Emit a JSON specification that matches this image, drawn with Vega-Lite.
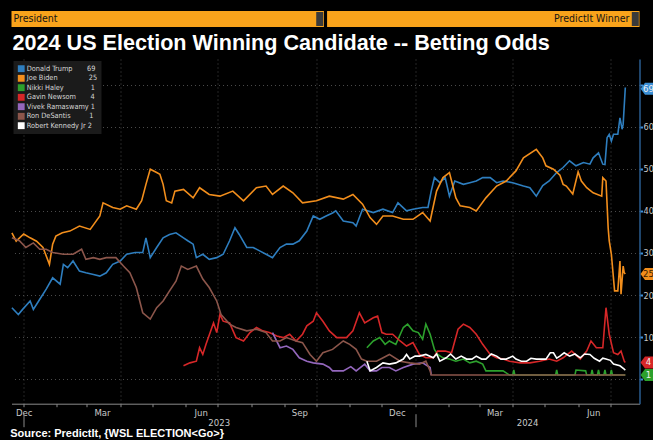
{
  "$schema": "https://vega.github.io/schema/vega-lite/v6.json",
  "background": "#000000",
  "padding": {"left": 8.5, "top": 11, "right": 0, "bottom": 0},
  "spacing": 4,
  "resolve": {"scale": {"color": "independent"}, "legend": {"color": "independent"}},
  "config": {
    "view": {"stroke": null},
    "axis": {"labelFont": "DejaVu Sans Condensed, sans-serif", "labelColor": "#c8c8c8", "labelFontSize": 9.5},
    "text": {"font": "DejaVu Sans Condensed, sans-serif"}
  },
  "title": {
    "text": "Source: PredictIt, {WSL ELECTION<Go>}",
    "orient": "bottom", "anchor": "start", "offset": 1, "dx": 1.5,
    "font": "Liberation Sans, Arial, sans-serif", "fontSize": 11, "fontWeight": "bold", "color": "#ffffff"
  },
  "datasets": {
    "menus": [{"menu": "President"}, {"menu": "PredictIt Winner"}],
    "last": [
      {"candidate": "Donald Trump", "last": 69},
      {"candidate": "Joe Biden", "last": 25},
      {"candidate": "Gavin Newsom", "last": 4},
      {"candidate": "Nikki Haley", "last": 1}
    ],
    "odds": [
      {"candidate": "Donald Trump", "date": "2022-12-21", "odds": 17.0},
      {"candidate": "Donald Trump", "date": "2022-12-27", "odds": 15.4},
      {"candidate": "Donald Trump", "date": "2022-12-31", "odds": 16.6},
      {"candidate": "Donald Trump", "date": "2023-01-07", "odds": 18.6},
      {"candidate": "Donald Trump", "date": "2023-01-10", "odds": 16.6},
      {"candidate": "Donald Trump", "date": "2023-01-16", "odds": 19.0},
      {"candidate": "Donald Trump", "date": "2023-01-22", "odds": 21.4},
      {"candidate": "Donald Trump", "date": "2023-01-28", "odds": 24.1},
      {"candidate": "Donald Trump", "date": "2023-02-04", "odds": 22.6},
      {"candidate": "Donald Trump", "date": "2023-02-07", "odds": 27.3},
      {"candidate": "Donald Trump", "date": "2023-02-11", "odds": 26.5},
      {"candidate": "Donald Trump", "date": "2023-02-16", "odds": 28.1},
      {"candidate": "Donald Trump", "date": "2023-02-22", "odds": 25.7},
      {"candidate": "Donald Trump", "date": "2023-02-28", "odds": 25.3},
      {"candidate": "Donald Trump", "date": "2023-03-07", "odds": 24.9},
      {"candidate": "Donald Trump", "date": "2023-03-13", "odds": 24.5},
      {"candidate": "Donald Trump", "date": "2023-03-19", "odds": 25.3},
      {"candidate": "Donald Trump", "date": "2023-03-25", "odds": 27.3},
      {"candidate": "Donald Trump", "date": "2023-04-01", "odds": 28.1},
      {"candidate": "Donald Trump", "date": "2023-04-07", "odds": 29.7},
      {"candidate": "Donald Trump", "date": "2023-04-15", "odds": 30.1},
      {"candidate": "Donald Trump", "date": "2023-04-22", "odds": 30.1},
      {"candidate": "Donald Trump", "date": "2023-04-25", "odds": 33.6},
      {"candidate": "Donald Trump", "date": "2023-04-29", "odds": 28.9},
      {"candidate": "Donald Trump", "date": "2023-05-05", "odds": 31.3},
      {"candidate": "Donald Trump", "date": "2023-05-11", "odds": 33.6},
      {"candidate": "Donald Trump", "date": "2023-05-17", "odds": 34.4},
      {"candidate": "Donald Trump", "date": "2023-05-23", "odds": 34.8},
      {"candidate": "Donald Trump", "date": "2023-05-30", "odds": 33.6},
      {"candidate": "Donald Trump", "date": "2023-06-03", "odds": 32.9},
      {"candidate": "Donald Trump", "date": "2023-06-08", "odds": 32.1},
      {"candidate": "Donald Trump", "date": "2023-06-11", "odds": 28.9},
      {"candidate": "Donald Trump", "date": "2023-06-17", "odds": 29.7},
      {"candidate": "Donald Trump", "date": "2023-06-23", "odds": 28.5},
      {"candidate": "Donald Trump", "date": "2023-06-30", "odds": 28.9},
      {"candidate": "Donald Trump", "date": "2023-07-06", "odds": 29.7},
      {"candidate": "Donald Trump", "date": "2023-07-12", "odds": 32.9},
      {"candidate": "Donald Trump", "date": "2023-07-17", "odds": 36.0},
      {"candidate": "Donald Trump", "date": "2023-07-21", "odds": 34.4},
      {"candidate": "Donald Trump", "date": "2023-07-28", "odds": 31.3},
      {"candidate": "Donald Trump", "date": "2023-08-03", "odds": 31.3},
      {"candidate": "Donald Trump", "date": "2023-08-09", "odds": 30.5},
      {"candidate": "Donald Trump", "date": "2023-08-15", "odds": 29.7},
      {"candidate": "Donald Trump", "date": "2023-08-21", "odds": 28.9},
      {"candidate": "Donald Trump", "date": "2023-08-28", "odds": 31.3},
      {"candidate": "Donald Trump", "date": "2023-09-03", "odds": 32.1},
      {"candidate": "Donald Trump", "date": "2023-09-09", "odds": 32.1},
      {"candidate": "Donald Trump", "date": "2023-09-15", "odds": 32.9},
      {"candidate": "Donald Trump", "date": "2023-09-22", "odds": 35.2},
      {"candidate": "Donald Trump", "date": "2023-09-28", "odds": 38.8},
      {"candidate": "Donald Trump", "date": "2023-10-04", "odds": 38.0},
      {"candidate": "Donald Trump", "date": "2023-10-10", "odds": 38.8},
      {"candidate": "Donald Trump", "date": "2023-10-16", "odds": 39.5},
      {"candidate": "Donald Trump", "date": "2023-10-19", "odds": 40.0},
      {"candidate": "Donald Trump", "date": "2023-10-26", "odds": 37.6},
      {"candidate": "Donald Trump", "date": "2023-11-04", "odds": 37.2},
      {"candidate": "Donald Trump", "date": "2023-11-07", "odds": 36.4},
      {"candidate": "Donald Trump", "date": "2023-11-13", "odds": 40.4},
      {"candidate": "Donald Trump", "date": "2023-11-23", "odds": 39.6},
      {"candidate": "Donald Trump", "date": "2023-12-02", "odds": 40.4},
      {"candidate": "Donald Trump", "date": "2023-12-11", "odds": 39.6},
      {"candidate": "Donald Trump", "date": "2023-12-16", "odds": 41.9},
      {"candidate": "Donald Trump", "date": "2023-12-24", "odds": 40.0},
      {"candidate": "Donald Trump", "date": "2023-12-30", "odds": 40.4},
      {"candidate": "Donald Trump", "date": "2024-01-08", "odds": 40.8},
      {"candidate": "Donald Trump", "date": "2024-01-13", "odds": 40.8},
      {"candidate": "Donald Trump", "date": "2024-01-16", "odds": 44.7},
      {"candidate": "Donald Trump", "date": "2024-01-19", "odds": 47.9},
      {"candidate": "Donald Trump", "date": "2024-01-24", "odds": 46.7},
      {"candidate": "Donald Trump", "date": "2024-01-29", "odds": 47.9},
      {"candidate": "Donald Trump", "date": "2024-02-02", "odds": 43.5},
      {"candidate": "Donald Trump", "date": "2024-02-07", "odds": 47.1},
      {"candidate": "Donald Trump", "date": "2024-02-15", "odds": 46.3},
      {"candidate": "Donald Trump", "date": "2024-02-21", "odds": 46.7},
      {"candidate": "Donald Trump", "date": "2024-02-27", "odds": 47.1},
      {"candidate": "Donald Trump", "date": "2024-03-04", "odds": 47.9},
      {"candidate": "Donald Trump", "date": "2024-03-11", "odds": 47.9},
      {"candidate": "Donald Trump", "date": "2024-03-17", "odds": 46.7},
      {"candidate": "Donald Trump", "date": "2024-03-23", "odds": 47.1},
      {"candidate": "Donald Trump", "date": "2024-04-01", "odds": 46.7},
      {"candidate": "Donald Trump", "date": "2024-04-11", "odds": 45.9},
      {"candidate": "Donald Trump", "date": "2024-04-17", "odds": 45.5},
      {"candidate": "Donald Trump", "date": "2024-04-23", "odds": 43.5},
      {"candidate": "Donald Trump", "date": "2024-04-29", "odds": 46.0},
      {"candidate": "Donald Trump", "date": "2024-05-05", "odds": 47.1},
      {"candidate": "Donald Trump", "date": "2024-05-12", "odds": 49.1},
      {"candidate": "Donald Trump", "date": "2024-05-18", "odds": 50.3},
      {"candidate": "Donald Trump", "date": "2024-05-24", "odds": 51.9},
      {"candidate": "Donald Trump", "date": "2024-05-30", "odds": 50.7},
      {"candidate": "Donald Trump", "date": "2024-06-06", "odds": 51.5},
      {"candidate": "Donald Trump", "date": "2024-06-12", "odds": 51.1},
      {"candidate": "Donald Trump", "date": "2024-06-15", "odds": 52.6},
      {"candidate": "Donald Trump", "date": "2024-06-20", "odds": 53.8},
      {"candidate": "Donald Trump", "date": "2024-06-24", "odds": 51.1},
      {"candidate": "Donald Trump", "date": "2024-06-26", "odds": 51.0},
      {"candidate": "Donald Trump", "date": "2024-06-28", "odds": 57.4},
      {"candidate": "Donald Trump", "date": "2024-06-30", "odds": 58.2},
      {"candidate": "Donald Trump", "date": "2024-07-02", "odds": 56.6},
      {"candidate": "Donald Trump", "date": "2024-07-04", "odds": 58.2},
      {"candidate": "Donald Trump", "date": "2024-07-08", "odds": 58.2},
      {"candidate": "Donald Trump", "date": "2024-07-10", "odds": 62.1},
      {"candidate": "Donald Trump", "date": "2024-07-12", "odds": 59.4},
      {"candidate": "Donald Trump", "date": "2024-07-13", "odds": 60.6},
      {"candidate": "Donald Trump", "date": "2024-07-15", "odds": 69.3},

      {"candidate": "Joe Biden", "date": "2022-12-21", "odds": 34.8},
      {"candidate": "Joe Biden", "date": "2022-12-25", "odds": 32.8},
      {"candidate": "Joe Biden", "date": "2023-01-01", "odds": 34.5},
      {"candidate": "Joe Biden", "date": "2023-01-07", "odds": 33.6},
      {"candidate": "Joe Biden", "date": "2023-01-13", "odds": 32.8},
      {"candidate": "Joe Biden", "date": "2023-01-19", "odds": 31.3},
      {"candidate": "Joe Biden", "date": "2023-01-25", "odds": 27.3},
      {"candidate": "Joe Biden", "date": "2023-01-28", "odds": 32.1},
      {"candidate": "Joe Biden", "date": "2023-01-31", "odds": 34.0},
      {"candidate": "Joe Biden", "date": "2023-02-06", "odds": 34.8},
      {"candidate": "Joe Biden", "date": "2023-02-13", "odds": 35.2},
      {"candidate": "Joe Biden", "date": "2023-02-22", "odds": 36.4},
      {"candidate": "Joe Biden", "date": "2023-03-04", "odds": 35.6},
      {"candidate": "Joe Biden", "date": "2023-03-13", "odds": 38.8},
      {"candidate": "Joe Biden", "date": "2023-03-16", "odds": 41.9},
      {"candidate": "Joe Biden", "date": "2023-03-25", "odds": 40.8},
      {"candidate": "Joe Biden", "date": "2023-04-01", "odds": 40.4},
      {"candidate": "Joe Biden", "date": "2023-04-07", "odds": 41.2},
      {"candidate": "Joe Biden", "date": "2023-04-16", "odds": 40.4},
      {"candidate": "Joe Biden", "date": "2023-04-21", "odds": 42.4},
      {"candidate": "Joe Biden", "date": "2023-04-25", "odds": 46.3},
      {"candidate": "Joe Biden", "date": "2023-04-29", "odds": 49.9},
      {"candidate": "Joe Biden", "date": "2023-05-05", "odds": 49.1},
      {"candidate": "Joe Biden", "date": "2023-05-08", "odds": 48.7},
      {"candidate": "Joe Biden", "date": "2023-05-11", "odds": 46.3},
      {"candidate": "Joe Biden", "date": "2023-05-14", "odds": 42.4},
      {"candidate": "Joe Biden", "date": "2023-05-19", "odds": 41.9},
      {"candidate": "Joe Biden", "date": "2023-05-22", "odds": 44.7},
      {"candidate": "Joe Biden", "date": "2023-05-30", "odds": 45.1},
      {"candidate": "Joe Biden", "date": "2023-06-08", "odds": 43.1},
      {"candidate": "Joe Biden", "date": "2023-06-14", "odds": 45.5},
      {"candidate": "Joe Biden", "date": "2023-06-23", "odds": 43.9},
      {"candidate": "Joe Biden", "date": "2023-07-03", "odds": 43.5},
      {"candidate": "Joe Biden", "date": "2023-07-15", "odds": 44.7},
      {"candidate": "Joe Biden", "date": "2023-07-25", "odds": 42.4},
      {"candidate": "Joe Biden", "date": "2023-08-06", "odds": 45.5},
      {"candidate": "Joe Biden", "date": "2023-08-15", "odds": 45.9},
      {"candidate": "Joe Biden", "date": "2023-08-21", "odds": 43.9},
      {"candidate": "Joe Biden", "date": "2023-08-31", "odds": 45.9},
      {"candidate": "Joe Biden", "date": "2023-09-09", "odds": 44.3},
      {"candidate": "Joe Biden", "date": "2023-09-18", "odds": 41.9},
      {"candidate": "Joe Biden", "date": "2023-10-01", "odds": 42.4},
      {"candidate": "Joe Biden", "date": "2023-10-13", "odds": 43.5},
      {"candidate": "Joe Biden", "date": "2023-10-26", "odds": 42.8},
      {"candidate": "Joe Biden", "date": "2023-11-04", "odds": 43.9},
      {"candidate": "Joe Biden", "date": "2023-11-13", "odds": 41.6},
      {"candidate": "Joe Biden", "date": "2023-11-20", "odds": 38.4},
      {"candidate": "Joe Biden", "date": "2023-11-26", "odds": 36.8},
      {"candidate": "Joe Biden", "date": "2023-12-02", "odds": 38.8},
      {"candidate": "Joe Biden", "date": "2023-12-11", "odds": 38.8},
      {"candidate": "Joe Biden", "date": "2023-12-21", "odds": 38.0},
      {"candidate": "Joe Biden", "date": "2023-12-30", "odds": 38.0},
      {"candidate": "Joe Biden", "date": "2024-01-08", "odds": 39.6},
      {"candidate": "Joe Biden", "date": "2024-01-15", "odds": 37.6},
      {"candidate": "Joe Biden", "date": "2024-01-21", "odds": 44.7},
      {"candidate": "Joe Biden", "date": "2024-01-27", "odds": 47.9},
      {"candidate": "Joe Biden", "date": "2024-02-02", "odds": 49.1},
      {"candidate": "Joe Biden", "date": "2024-02-08", "odds": 43.1},
      {"candidate": "Joe Biden", "date": "2024-02-12", "odds": 41.2},
      {"candidate": "Joe Biden", "date": "2024-02-21", "odds": 40.8},
      {"candidate": "Joe Biden", "date": "2024-02-27", "odds": 40.0},
      {"candidate": "Joe Biden", "date": "2024-03-07", "odds": 43.1},
      {"candidate": "Joe Biden", "date": "2024-03-17", "odds": 45.9},
      {"candidate": "Joe Biden", "date": "2024-03-26", "odds": 47.1},
      {"candidate": "Joe Biden", "date": "2024-04-04", "odds": 49.5},
      {"candidate": "Joe Biden", "date": "2024-04-11", "odds": 52.6},
      {"candidate": "Joe Biden", "date": "2024-04-23", "odds": 54.6},
      {"candidate": "Joe Biden", "date": "2024-04-29", "odds": 52.6},
      {"candidate": "Joe Biden", "date": "2024-05-02", "odds": 50.7},
      {"candidate": "Joe Biden", "date": "2024-05-09", "odds": 49.9},
      {"candidate": "Joe Biden", "date": "2024-05-15", "odds": 48.5},
      {"candidate": "Joe Biden", "date": "2024-05-18", "odds": 46.3},
      {"candidate": "Joe Biden", "date": "2024-05-21", "odds": 45.9},
      {"candidate": "Joe Biden", "date": "2024-05-27", "odds": 44.0},
      {"candidate": "Joe Biden", "date": "2024-06-01", "odds": 49.3},
      {"candidate": "Joe Biden", "date": "2024-06-04", "odds": 47.1},
      {"candidate": "Joe Biden", "date": "2024-06-09", "odds": 45.5},
      {"candidate": "Joe Biden", "date": "2024-06-15", "odds": 44.3},
      {"candidate": "Joe Biden", "date": "2024-06-23", "odds": 43.5},
      {"candidate": "Joe Biden", "date": "2024-06-24", "odds": 47.9},
      {"candidate": "Joe Biden", "date": "2024-06-27", "odds": 47.1},
      {"candidate": "Joe Biden", "date": "2024-06-29", "odds": 36.0},
      {"candidate": "Joe Biden", "date": "2024-06-30", "odds": 32.9},
      {"candidate": "Joe Biden", "date": "2024-07-02", "odds": 29.7},
      {"candidate": "Joe Biden", "date": "2024-07-05", "odds": 21.0},
      {"candidate": "Joe Biden", "date": "2024-07-08", "odds": 21.0},
      {"candidate": "Joe Biden", "date": "2024-07-10", "odds": 28.1},
      {"candidate": "Joe Biden", "date": "2024-07-11", "odds": 20.2},
      {"candidate": "Joe Biden", "date": "2024-07-13", "odds": 26.9},
      {"candidate": "Joe Biden", "date": "2024-07-14", "odds": 25.3},
      {"candidate": "Joe Biden", "date": "2024-07-15", "odds": 25.0},

      {"candidate": "Nikki Haley", "date": "2023-11-17", "odds": 7.5},
      {"candidate": "Nikki Haley", "date": "2023-11-23", "odds": 9.1},
      {"candidate": "Nikki Haley", "date": "2023-11-29", "odds": 9.9},
      {"candidate": "Nikki Haley", "date": "2023-12-04", "odds": 8.3},
      {"candidate": "Nikki Haley", "date": "2023-12-08", "odds": 9.1},
      {"candidate": "Nikki Haley", "date": "2023-12-14", "odds": 8.3},
      {"candidate": "Nikki Haley", "date": "2023-12-21", "odds": 12.3},
      {"candidate": "Nikki Haley", "date": "2023-12-25", "odds": 13.1},
      {"candidate": "Nikki Haley", "date": "2023-12-30", "odds": 11.5},
      {"candidate": "Nikki Haley", "date": "2024-01-04", "odds": 11.1},
      {"candidate": "Nikki Haley", "date": "2024-01-08", "odds": 9.5},
      {"candidate": "Nikki Haley", "date": "2024-01-11", "odds": 13.1},
      {"candidate": "Nikki Haley", "date": "2024-01-15", "odds": 10.7},
      {"candidate": "Nikki Haley", "date": "2024-01-19", "odds": 7.1},
      {"candidate": "Nikki Haley", "date": "2024-01-22", "odds": 5.9},
      {"candidate": "Nikki Haley", "date": "2024-01-27", "odds": 5.1},
      {"candidate": "Nikki Haley", "date": "2024-02-02", "odds": 4.8},
      {"candidate": "Nikki Haley", "date": "2024-02-08", "odds": 4.3},
      {"candidate": "Nikki Haley", "date": "2024-02-15", "odds": 4.8},
      {"candidate": "Nikki Haley", "date": "2024-02-21", "odds": 3.9},
      {"candidate": "Nikki Haley", "date": "2024-02-27", "odds": 4.3},
      {"candidate": "Nikki Haley", "date": "2024-03-04", "odds": 3.6},
      {"candidate": "Nikki Haley", "date": "2024-03-07", "odds": 2.0},
      {"candidate": "Nikki Haley", "date": "2024-03-13", "odds": 2.0},
      {"candidate": "Nikki Haley", "date": "2024-03-23", "odds": 2.0},
      {"candidate": "Nikki Haley", "date": "2024-03-29", "odds": 1.0},
      {"candidate": "Nikki Haley", "date": "2024-04-01", "odds": 1.0},
      {"candidate": "Nikki Haley", "date": "2024-04-02", "odds": 2.2},
      {"candidate": "Nikki Haley", "date": "2024-04-03", "odds": 1.0},
      {"candidate": "Nikki Haley", "date": "2024-05-11", "odds": 1.0},
      {"candidate": "Nikki Haley", "date": "2024-05-12", "odds": 2.2},
      {"candidate": "Nikki Haley", "date": "2024-05-13", "odds": 1.0},
      {"candidate": "Nikki Haley", "date": "2024-05-29", "odds": 1.0},
      {"candidate": "Nikki Haley", "date": "2024-05-30", "odds": 2.2},
      {"candidate": "Nikki Haley", "date": "2024-06-08", "odds": 2.0},
      {"candidate": "Nikki Haley", "date": "2024-06-09", "odds": 1.0},
      {"candidate": "Nikki Haley", "date": "2024-06-13", "odds": 1.0},
      {"candidate": "Nikki Haley", "date": "2024-06-14", "odds": 2.2},
      {"candidate": "Nikki Haley", "date": "2024-06-15", "odds": 1.0},
      {"candidate": "Nikki Haley", "date": "2024-06-19", "odds": 1.0},
      {"candidate": "Nikki Haley", "date": "2024-06-20", "odds": 2.2},
      {"candidate": "Nikki Haley", "date": "2024-06-21", "odds": 1.0},
      {"candidate": "Nikki Haley", "date": "2024-06-25", "odds": 1.0},
      {"candidate": "Nikki Haley", "date": "2024-06-26", "odds": 2.2},
      {"candidate": "Nikki Haley", "date": "2024-06-27", "odds": 1.0},
      {"candidate": "Nikki Haley", "date": "2024-07-01", "odds": 1.0},
      {"candidate": "Nikki Haley", "date": "2024-07-02", "odds": 2.2},
      {"candidate": "Nikki Haley", "date": "2024-07-03", "odds": 1.0},
      {"candidate": "Nikki Haley", "date": "2024-07-15", "odds": 1.0},

      {"candidate": "Gavin Newsom", "date": "2023-05-30", "odds": 3.2},
      {"candidate": "Gavin Newsom", "date": "2023-06-05", "odds": 3.9},
      {"candidate": "Gavin Newsom", "date": "2023-06-11", "odds": 4.3},
      {"candidate": "Gavin Newsom", "date": "2023-06-14", "odds": 7.5},
      {"candidate": "Gavin Newsom", "date": "2023-06-17", "odds": 5.9},
      {"candidate": "Gavin Newsom", "date": "2023-06-20", "odds": 8.3},
      {"candidate": "Gavin Newsom", "date": "2023-06-27", "odds": 13.4},
      {"candidate": "Gavin Newsom", "date": "2023-06-30", "odds": 11.1},
      {"candidate": "Gavin Newsom", "date": "2023-07-03", "odds": 15.4},
      {"candidate": "Gavin Newsom", "date": "2023-07-06", "odds": 13.8},
      {"candidate": "Gavin Newsom", "date": "2023-07-12", "odds": 13.4},
      {"candidate": "Gavin Newsom", "date": "2023-07-18", "odds": 9.9},
      {"candidate": "Gavin Newsom", "date": "2023-07-25", "odds": 9.1},
      {"candidate": "Gavin Newsom", "date": "2023-07-31", "odds": 11.1},
      {"candidate": "Gavin Newsom", "date": "2023-08-06", "odds": 12.3},
      {"candidate": "Gavin Newsom", "date": "2023-08-12", "odds": 11.5},
      {"candidate": "Gavin Newsom", "date": "2023-08-18", "odds": 11.1},
      {"candidate": "Gavin Newsom", "date": "2023-08-25", "odds": 10.3},
      {"candidate": "Gavin Newsom", "date": "2023-08-31", "odds": 9.9},
      {"candidate": "Gavin Newsom", "date": "2023-09-06", "odds": 10.7},
      {"candidate": "Gavin Newsom", "date": "2023-09-12", "odds": 9.1},
      {"candidate": "Gavin Newsom", "date": "2023-09-18", "odds": 10.7},
      {"candidate": "Gavin Newsom", "date": "2023-09-22", "odds": 12.7},
      {"candidate": "Gavin Newsom", "date": "2023-09-28", "odds": 13.8},
      {"candidate": "Gavin Newsom", "date": "2023-10-01", "odds": 15.8},
      {"candidate": "Gavin Newsom", "date": "2023-10-07", "odds": 13.8},
      {"candidate": "Gavin Newsom", "date": "2023-10-13", "odds": 11.5},
      {"candidate": "Gavin Newsom", "date": "2023-10-20", "odds": 9.9},
      {"candidate": "Gavin Newsom", "date": "2023-10-29", "odds": 9.9},
      {"candidate": "Gavin Newsom", "date": "2023-11-04", "odds": 11.5},
      {"candidate": "Gavin Newsom", "date": "2023-11-10", "odds": 15.8},
      {"candidate": "Gavin Newsom", "date": "2023-11-15", "odds": 13.4},
      {"candidate": "Gavin Newsom", "date": "2023-11-23", "odds": 14.6},
      {"candidate": "Gavin Newsom", "date": "2023-11-27", "odds": 15.0},
      {"candidate": "Gavin Newsom", "date": "2023-12-01", "odds": 11.1},
      {"candidate": "Gavin Newsom", "date": "2023-12-05", "odds": 10.7},
      {"candidate": "Gavin Newsom", "date": "2023-12-11", "odds": 10.7},
      {"candidate": "Gavin Newsom", "date": "2023-12-18", "odds": 9.1},
      {"candidate": "Gavin Newsom", "date": "2023-12-24", "odds": 7.9},
      {"candidate": "Gavin Newsom", "date": "2023-12-30", "odds": 8.7},
      {"candidate": "Gavin Newsom", "date": "2024-01-05", "odds": 5.9},
      {"candidate": "Gavin Newsom", "date": "2024-01-11", "odds": 5.1},
      {"candidate": "Gavin Newsom", "date": "2024-01-18", "odds": 5.1},
      {"candidate": "Gavin Newsom", "date": "2024-01-22", "odds": 6.7},
      {"candidate": "Gavin Newsom", "date": "2024-01-29", "odds": 6.7},
      {"candidate": "Gavin Newsom", "date": "2024-02-04", "odds": 6.3},
      {"candidate": "Gavin Newsom", "date": "2024-02-10", "odds": 11.9},
      {"candidate": "Gavin Newsom", "date": "2024-02-15", "odds": 13.1},
      {"candidate": "Gavin Newsom", "date": "2024-02-21", "odds": 12.3},
      {"candidate": "Gavin Newsom", "date": "2024-02-27", "odds": 10.7},
      {"candidate": "Gavin Newsom", "date": "2024-03-04", "odds": 8.3},
      {"candidate": "Gavin Newsom", "date": "2024-03-11", "odds": 5.9},
      {"candidate": "Gavin Newsom", "date": "2024-03-17", "odds": 5.1},
      {"candidate": "Gavin Newsom", "date": "2024-03-23", "odds": 4.8},
      {"candidate": "Gavin Newsom", "date": "2024-03-29", "odds": 4.3},
      {"candidate": "Gavin Newsom", "date": "2024-04-08", "odds": 3.9},
      {"candidate": "Gavin Newsom", "date": "2024-04-17", "odds": 3.9},
      {"candidate": "Gavin Newsom", "date": "2024-04-26", "odds": 4.3},
      {"candidate": "Gavin Newsom", "date": "2024-05-05", "odds": 4.8},
      {"candidate": "Gavin Newsom", "date": "2024-05-12", "odds": 4.3},
      {"candidate": "Gavin Newsom", "date": "2024-05-18", "odds": 5.1},
      {"candidate": "Gavin Newsom", "date": "2024-05-26", "odds": 6.7},
      {"candidate": "Gavin Newsom", "date": "2024-06-03", "odds": 4.8},
      {"candidate": "Gavin Newsom", "date": "2024-06-09", "odds": 6.7},
      {"candidate": "Gavin Newsom", "date": "2024-06-13", "odds": 9.1},
      {"candidate": "Gavin Newsom", "date": "2024-06-18", "odds": 7.5},
      {"candidate": "Gavin Newsom", "date": "2024-06-24", "odds": 7.5},
      {"candidate": "Gavin Newsom", "date": "2024-06-27", "odds": 17.0},
      {"candidate": "Gavin Newsom", "date": "2024-06-30", "odds": 10.7},
      {"candidate": "Gavin Newsom", "date": "2024-07-04", "odds": 6.3},
      {"candidate": "Gavin Newsom", "date": "2024-07-08", "odds": 5.9},
      {"candidate": "Gavin Newsom", "date": "2024-07-11", "odds": 6.7},
      {"candidate": "Gavin Newsom", "date": "2024-07-14", "odds": 4.3},
      {"candidate": "Gavin Newsom", "date": "2024-07-15", "odds": 4.0},

      {"candidate": "Vivek Ramaswamy", "date": "2023-08-21", "odds": 11.1},
      {"candidate": "Vivek Ramaswamy", "date": "2023-08-28", "odds": 7.5},
      {"candidate": "Vivek Ramaswamy", "date": "2023-09-03", "odds": 7.9},
      {"candidate": "Vivek Ramaswamy", "date": "2023-09-09", "odds": 7.1},
      {"candidate": "Vivek Ramaswamy", "date": "2023-09-15", "odds": 5.1},
      {"candidate": "Vivek Ramaswamy", "date": "2023-09-22", "odds": 4.3},
      {"candidate": "Vivek Ramaswamy", "date": "2023-09-28", "odds": 3.9},
      {"candidate": "Vivek Ramaswamy", "date": "2023-10-07", "odds": 3.6},
      {"candidate": "Vivek Ramaswamy", "date": "2023-10-13", "odds": 2.8},
      {"candidate": "Vivek Ramaswamy", "date": "2023-10-16", "odds": 2.0},
      {"candidate": "Vivek Ramaswamy", "date": "2023-10-26", "odds": 2.0},
      {"candidate": "Vivek Ramaswamy", "date": "2023-11-02", "odds": 3.0},
      {"candidate": "Vivek Ramaswamy", "date": "2023-11-07", "odds": 2.0},
      {"candidate": "Vivek Ramaswamy", "date": "2023-11-15", "odds": 3.6},
      {"candidate": "Vivek Ramaswamy", "date": "2023-11-20", "odds": 2.0},
      {"candidate": "Vivek Ramaswamy", "date": "2023-11-26", "odds": 2.0},
      {"candidate": "Vivek Ramaswamy", "date": "2023-12-01", "odds": 2.8},
      {"candidate": "Vivek Ramaswamy", "date": "2023-12-08", "odds": 2.8},
      {"candidate": "Vivek Ramaswamy", "date": "2023-12-14", "odds": 2.0},
      {"candidate": "Vivek Ramaswamy", "date": "2023-12-21", "odds": 2.8},
      {"candidate": "Vivek Ramaswamy", "date": "2023-12-30", "odds": 3.6},
      {"candidate": "Vivek Ramaswamy", "date": "2024-01-08", "odds": 3.9},
      {"candidate": "Vivek Ramaswamy", "date": "2024-01-15", "odds": 2.8},
      {"candidate": "Vivek Ramaswamy", "date": "2024-01-16", "odds": 1.0},

      {"candidate": "Ron DeSantis", "date": "2022-12-21", "odds": 33.6},
      {"candidate": "Ron DeSantis", "date": "2022-12-28", "odds": 32.9},
      {"candidate": "Ron DeSantis", "date": "2023-01-03", "odds": 31.3},
      {"candidate": "Ron DeSantis", "date": "2023-01-10", "odds": 32.4},
      {"candidate": "Ron DeSantis", "date": "2023-01-16", "odds": 30.9},
      {"candidate": "Ron DeSantis", "date": "2023-01-22", "odds": 30.9},
      {"candidate": "Ron DeSantis", "date": "2023-01-28", "odds": 30.1},
      {"candidate": "Ron DeSantis", "date": "2023-02-07", "odds": 29.7},
      {"candidate": "Ron DeSantis", "date": "2023-02-16", "odds": 29.7},
      {"candidate": "Ron DeSantis", "date": "2023-02-24", "odds": 30.9},
      {"candidate": "Ron DeSantis", "date": "2023-02-28", "odds": 28.5},
      {"candidate": "Ron DeSantis", "date": "2023-03-07", "odds": 28.9},
      {"candidate": "Ron DeSantis", "date": "2023-03-13", "odds": 28.5},
      {"candidate": "Ron DeSantis", "date": "2023-03-19", "odds": 28.9},
      {"candidate": "Ron DeSantis", "date": "2023-03-28", "odds": 28.9},
      {"candidate": "Ron DeSantis", "date": "2023-04-04", "odds": 26.9},
      {"candidate": "Ron DeSantis", "date": "2023-04-10", "odds": 25.3},
      {"candidate": "Ron DeSantis", "date": "2023-04-16", "odds": 21.8},
      {"candidate": "Ron DeSantis", "date": "2023-04-22", "odds": 15.8},
      {"candidate": "Ron DeSantis", "date": "2023-04-29", "odds": 14.3},
      {"candidate": "Ron DeSantis", "date": "2023-05-05", "odds": 17.0},
      {"candidate": "Ron DeSantis", "date": "2023-05-11", "odds": 18.6},
      {"candidate": "Ron DeSantis", "date": "2023-05-17", "odds": 21.0},
      {"candidate": "Ron DeSantis", "date": "2023-05-23", "odds": 23.3},
      {"candidate": "Ron DeSantis", "date": "2023-05-28", "odds": 26.9},
      {"candidate": "Ron DeSantis", "date": "2023-06-03", "odds": 26.1},
      {"candidate": "Ron DeSantis", "date": "2023-06-11", "odds": 26.9},
      {"candidate": "Ron DeSantis", "date": "2023-06-17", "odds": 23.8},
      {"candidate": "Ron DeSantis", "date": "2023-06-23", "odds": 21.8},
      {"candidate": "Ron DeSantis", "date": "2023-06-30", "odds": 18.6},
      {"candidate": "Ron DeSantis", "date": "2023-07-04", "odds": 15.4},
      {"candidate": "Ron DeSantis", "date": "2023-07-12", "odds": 13.1},
      {"candidate": "Ron DeSantis", "date": "2023-07-18", "odds": 12.3},
      {"candidate": "Ron DeSantis", "date": "2023-07-28", "odds": 11.5},
      {"candidate": "Ron DeSantis", "date": "2023-08-06", "odds": 11.9},
      {"candidate": "Ron DeSantis", "date": "2023-08-15", "odds": 11.1},
      {"candidate": "Ron DeSantis", "date": "2023-08-21", "odds": 9.1},
      {"candidate": "Ron DeSantis", "date": "2023-08-28", "odds": 9.1},
      {"candidate": "Ron DeSantis", "date": "2023-09-03", "odds": 9.9},
      {"candidate": "Ron DeSantis", "date": "2023-09-12", "odds": 9.1},
      {"candidate": "Ron DeSantis", "date": "2023-09-18", "odds": 8.7},
      {"candidate": "Ron DeSantis", "date": "2023-09-25", "odds": 5.9},
      {"candidate": "Ron DeSantis", "date": "2023-10-01", "odds": 4.3},
      {"candidate": "Ron DeSantis", "date": "2023-10-07", "odds": 6.3},
      {"candidate": "Ron DeSantis", "date": "2023-10-16", "odds": 7.1},
      {"candidate": "Ron DeSantis", "date": "2023-10-26", "odds": 9.1},
      {"candidate": "Ron DeSantis", "date": "2023-11-01", "odds": 8.3},
      {"candidate": "Ron DeSantis", "date": "2023-11-07", "odds": 7.1},
      {"candidate": "Ron DeSantis", "date": "2023-11-12", "odds": 4.8},
      {"candidate": "Ron DeSantis", "date": "2023-11-17", "odds": 4.3},
      {"candidate": "Ron DeSantis", "date": "2023-11-26", "odds": 4.3},
      {"candidate": "Ron DeSantis", "date": "2023-12-08", "odds": 5.9},
      {"candidate": "Ron DeSantis", "date": "2023-12-18", "odds": 4.3},
      {"candidate": "Ron DeSantis", "date": "2023-12-27", "odds": 3.9},
      {"candidate": "Ron DeSantis", "date": "2024-01-05", "odds": 3.6},
      {"candidate": "Ron DeSantis", "date": "2024-01-11", "odds": 4.3},
      {"candidate": "Ron DeSantis", "date": "2024-01-15", "odds": 2.0},
      {"candidate": "Ron DeSantis", "date": "2024-01-16", "odds": 1.0},
      {"candidate": "Ron DeSantis", "date": "2024-03-01", "odds": 1.0},
      {"candidate": "Ron DeSantis", "date": "2024-05-01", "odds": 1.0},
      {"candidate": "Ron DeSantis", "date": "2024-07-15", "odds": 1.0},

      {"candidate": "Robert Kennedy Jr", "date": "2023-11-17", "odds": 4.3},
      {"candidate": "Robert Kennedy Jr", "date": "2023-11-20", "odds": 2.0},
      {"candidate": "Robert Kennedy Jr", "date": "2023-11-26", "odds": 2.8},
      {"candidate": "Robert Kennedy Jr", "date": "2023-12-02", "odds": 3.9},
      {"candidate": "Robert Kennedy Jr", "date": "2023-12-08", "odds": 3.6},
      {"candidate": "Robert Kennedy Jr", "date": "2023-12-14", "odds": 3.9},
      {"candidate": "Robert Kennedy Jr", "date": "2023-12-21", "odds": 4.8},
      {"candidate": "Robert Kennedy Jr", "date": "2023-12-24", "odds": 5.9},
      {"candidate": "Robert Kennedy Jr", "date": "2023-12-27", "odds": 4.8},
      {"candidate": "Robert Kennedy Jr", "date": "2024-01-01", "odds": 5.5},
      {"candidate": "Robert Kennedy Jr", "date": "2024-01-05", "odds": 5.5},
      {"candidate": "Robert Kennedy Jr", "date": "2024-01-11", "odds": 5.9},
      {"candidate": "Robert Kennedy Jr", "date": "2024-01-18", "odds": 5.1},
      {"candidate": "Robert Kennedy Jr", "date": "2024-01-21", "odds": 6.0},
      {"candidate": "Robert Kennedy Jr", "date": "2024-01-24", "odds": 4.3},
      {"candidate": "Robert Kennedy Jr", "date": "2024-01-30", "odds": 5.1},
      {"candidate": "Robert Kennedy Jr", "date": "2024-02-03", "odds": 6.0},
      {"candidate": "Robert Kennedy Jr", "date": "2024-02-08", "odds": 4.8},
      {"candidate": "Robert Kennedy Jr", "date": "2024-02-13", "odds": 5.5},
      {"candidate": "Robert Kennedy Jr", "date": "2024-02-18", "odds": 4.8},
      {"candidate": "Robert Kennedy Jr", "date": "2024-02-23", "odds": 4.8},
      {"candidate": "Robert Kennedy Jr", "date": "2024-02-27", "odds": 5.5},
      {"candidate": "Robert Kennedy Jr", "date": "2024-03-03", "odds": 4.8},
      {"candidate": "Robert Kennedy Jr", "date": "2024-03-07", "odds": 4.8},
      {"candidate": "Robert Kennedy Jr", "date": "2024-03-12", "odds": 6.0},
      {"candidate": "Robert Kennedy Jr", "date": "2024-03-17", "odds": 5.5},
      {"candidate": "Robert Kennedy Jr", "date": "2024-03-21", "odds": 4.8},
      {"candidate": "Robert Kennedy Jr", "date": "2024-03-26", "odds": 4.8},
      {"candidate": "Robert Kennedy Jr", "date": "2024-04-01", "odds": 5.5},
      {"candidate": "Robert Kennedy Jr", "date": "2024-04-04", "odds": 4.8},
      {"candidate": "Robert Kennedy Jr", "date": "2024-04-09", "odds": 4.3},
      {"candidate": "Robert Kennedy Jr", "date": "2024-04-14", "odds": 4.3},
      {"candidate": "Robert Kennedy Jr", "date": "2024-04-18", "odds": 5.0},
      {"candidate": "Robert Kennedy Jr", "date": "2024-04-23", "odds": 4.8},
      {"candidate": "Robert Kennedy Jr", "date": "2024-04-28", "odds": 4.8},
      {"candidate": "Robert Kennedy Jr", "date": "2024-05-02", "odds": 4.8},
      {"candidate": "Robert Kennedy Jr", "date": "2024-05-06", "odds": 6.3},
      {"candidate": "Robert Kennedy Jr", "date": "2024-05-09", "odds": 6.3},
      {"candidate": "Robert Kennedy Jr", "date": "2024-05-12", "odds": 5.0},
      {"candidate": "Robert Kennedy Jr", "date": "2024-05-15", "odds": 5.5},
      {"candidate": "Robert Kennedy Jr", "date": "2024-05-19", "odds": 6.3},
      {"candidate": "Robert Kennedy Jr", "date": "2024-05-24", "odds": 5.5},
      {"candidate": "Robert Kennedy Jr", "date": "2024-05-29", "odds": 6.0},
      {"candidate": "Robert Kennedy Jr", "date": "2024-06-03", "odds": 5.1},
      {"candidate": "Robert Kennedy Jr", "date": "2024-06-07", "odds": 6.0},
      {"candidate": "Robert Kennedy Jr", "date": "2024-06-12", "odds": 5.9},
      {"candidate": "Robert Kennedy Jr", "date": "2024-06-16", "odds": 5.0},
      {"candidate": "Robert Kennedy Jr", "date": "2024-06-21", "odds": 4.3},
      {"candidate": "Robert Kennedy Jr", "date": "2024-06-24", "odds": 5.0},
      {"candidate": "Robert Kennedy Jr", "date": "2024-06-27", "odds": 4.8},
      {"candidate": "Robert Kennedy Jr", "date": "2024-07-01", "odds": 4.5},
      {"candidate": "Robert Kennedy Jr", "date": "2024-07-04", "odds": 3.6},
      {"candidate": "Robert Kennedy Jr", "date": "2024-07-10", "odds": 3.2},
      {"candidate": "Robert Kennedy Jr", "date": "2024-07-14", "odds": 2.4},
      {"candidate": "Robert Kennedy Jr", "date": "2024-07-15", "odds": 2.2}
    ]
  },
  "vconcat": [
    {
      "width": 628,
      "height": 16,
      "data": {"name": "menus"},
      "title": {
        "text": "2024 US Election Winning Candidate -- Betting Odds",
        "orient": "bottom", "anchor": "start", "offset": 6, "dx": 1,
        "font": "Liberation Sans, Arial, sans-serif", "fontSize": 21.6, "fontWeight": "bold", "color": "#ffffff"
      },
      "encoding": {
        "x": {"field": "menu", "type": "nominal", "sort": null,
              "scale": {"domain": ["President", "PredictIt Winner"], "paddingInner": 0.01, "paddingOuter": 0},
              "axis": null}
      },
      "layer": [
        {"mark": {"type": "rect", "color": "#f9a31b"}},
        {
          "transform": [{"filter": "datum.menu === 'President'"}],
          "mark": {"type": "text", "align": "left", "baseline": "middle", "dx": 2, "fontSize": 10.5, "color": "#141414"},
          "encoding": {
            "x": {"field": "menu", "type": "nominal", "bandPosition": 0},
            "text": {"field": "menu"}
          }
        },
        {
          "transform": [{"filter": "datum.menu === 'PredictIt Winner'"}],
          "mark": {"type": "text", "align": "right", "baseline": "middle", "dx": -10, "fontSize": 10.5, "color": "#141414"},
          "encoding": {
            "x": {"field": "menu", "type": "nominal", "bandPosition": 1},
            "text": {"field": "menu"}
          }
        },
        {
          "mark": {"type": "point", "shape": "M -1.1 -1 L -0.1 -1 L -0.1 1 L -1.1 1 Z", "size": 196, "filled": true, "color": "#3a3a3a", "opacity": 1},
          "encoding": {"x": {"field": "menu", "type": "nominal", "bandPosition": 1}}
        }
      ]
    },
    {
      "width": 628,
      "height": 344.7,
      "resolve": {"axis": {"x": "independent", "y": "independent"}},
      "layer": [
        {
          "data": {"name": "odds"},
          "mark": {"type": "line", "strokeWidth": 1.6},
          "encoding": {
            "x": {
              "field": "date", "type": "temporal",
              "scale": {"type": "utc", "domain": [
                {"year": 2022, "month": 12, "date": 20, "hours": 15, "utc": true},
                {"year": 2024, "month": 7, "date": 28, "hours": 5, "minutes": 30, "utc": true}
              ]},
              "axis": {
                "orient": "bottom", "title": null, "grid": false,
                "tickCount": {"interval": "month", "step": 1},
                "domainColor": "#8a8a8a", "tickColor": "#8a8a8a", "tickSize": 3,
                "labelPadding": 1, "labelOverlap": false, "labelFlush": false, "labelBound": false,
                "labelAlign": "center",
                "labelExpr": "(utcmonth(datum.value) == 0 && utcyear(datum.value) == 2023) ? 'Dec' : (indexof([2, 5, 8, 11], utcmonth(datum.value)) >= 0 ? utcFormat(datum.value, '%b') : '')",
                "labelOffset": {"condition": {"test": "utcmonth(datum.value) == 0", "value": 0}, "value": 15}
              }
            },
            "y": {
              "field": "odds", "type": "quantitative",
              "scale": {"domain": [-5.8, 76.08], "nice": false, "zero": false},
              "axis": {
                "orient": "right", "title": null, "values": [0, 10, 20, 30, 40, 50, 60, 70],
                "grid": true, "gridColor": "#4a4a4a", "gridDash": [1, 3],
                "domainColor": "#2a5d8f", "domainWidth": 1.5,
                "tickColor": "#3d8fd8", "tickSize": 3, "tickWidth": 2,
                "labelPadding": 0.5, "labelFontSize": 9,
                "labelExpr": "(datum.value == 0 || datum.value == 70) ? '' : datum.label"
              }
            },
            "color": {
              "field": "candidate", "type": "nominal",
              "scale": {
                "domain": ["Donald Trump", "Joe Biden", "Nikki Haley", "Gavin Newsom", "Vivek Ramaswamy", "Ron DeSantis", "Robert Kennedy Jr"],
                "range": ["#2e7ebf", "#f28e1c", "#2ca02c", "#d62728", "#9467bd", "#8c564b", "#ffffff"]
              },
              "legend": {
                "orient": "top-left", "offset": 2, "title": null,
                "fillColor": "#1b1b1b", "padding": 4,
                "symbolType": "square", "symbolSize": 9, "symbolStrokeWidth": 4, "symbolOpacity": 1,
                "clipHeight": 7.5,
                "labelFont": "DejaVu Sans Condensed, sans-serif",
                "labelFontSize": 7.3, "labelColor": "#d8d8d8", "labelOffset": 2, "rowPadding": 0.5,
                "labelExpr": "datum.label == 'Donald Trump' ? 'Donald Trump\u00a0\u00a0\u00a0\u00a0\u00a0\u00a0\u00a069' : datum.label == 'Joe Biden' ? 'Joe Biden\u00a0\u00a0\u00a0\u00a0\u00a0\u00a0\u00a0\u00a0\u00a0\u00a0\u00a0\u00a0\u00a0\u00a0\u00a025' : datum.label == 'Nikki Haley' ? 'Nikki Haley\u00a0\u00a0\u00a0\u00a0\u00a0\u00a0\u00a0\u00a0\u00a0\u00a0\u00a0\u00a0\u00a01' : datum.label == 'Gavin Newsom' ? 'Gavin Newsom\u00a0\u00a0\u00a0\u00a0\u00a0\u00a0\u00a04' : datum.label == 'Vivek Ramaswamy' ? 'Vivek Ramaswamy\u00a01' : datum.label == 'Ron DeSantis' ? 'Ron DeSantis\u00a0\u00a0\u00a0\u00a0\u00a0\u00a0\u00a0\u00a0\u00a01' : 'Robert Kennedy Jr\u00a02'"
              }
            }
          }
        },
        {
          "data": {"name": "last"},
          "mark": {"type": "point", "shape": "M 0.1 0 L 0.55 -0.6 L 2.4 -0.6 L 2.4 0.6 L 0.55 0.6 Z", "size": 400, "filled": true, "opacity": 1},
          "encoding": {
            "x": {
              "datum": {"year": 2024, "month": 7, "date": 28, "hours": 5, "minutes": 30, "utc": true},
              "type": "temporal",
              "axis": {
                "orient": "bottom", "title": null, "grid": false, "domain": false, "offset": 10,
                "tickCount": {"interval": "year", "step": 1},
                "tickColor": "#8a8a8a", "tickSize": 13,
                "labelPadding": -9, "labelOverlap": false, "labelFlush": false, "labelBound": false,
                "labelAlign": "center",
                "labelExpr": "utcFormat(datum.value, '%Y')",
                "labelOffset": {"condition": {"test": "utcyear(datum.value) == 2023", "value": 195}, "value": 112}
              }
            },
            "y": {"field": "last", "type": "quantitative", "axis": null},
            "color": {
              "condition": [
                {"test": "datum.candidate === 'Donald Trump'", "value": "#3a8fd6"},
                {"test": "datum.candidate === 'Joe Biden'", "value": "#f28e1c"},
                {"test": "datum.candidate === 'Gavin Newsom'", "value": "#d62728"}
              ],
              "value": "#2ca02c"
            }
          }
        },
        {
          "data": {"name": "last"},
          "mark": {"type": "text", "dx": 9, "align": "center", "baseline": "middle", "fontSize": 9.5},
          "encoding": {
            "x": {
              "datum": {"year": 2024, "month": 7, "date": 28, "hours": 5, "minutes": 30, "utc": true},
              "type": "temporal",
              "axis": {
                "orient": "bottom", "title": null, "grid": true, "gridColor": "#4a4a4a", "gridDash": [1, 3],
                "ticks": false, "labels": false, "domain": false,
                "tickCount": {"interval": "month", "step": 3}
              }
            },
            "y": {"field": "last", "type": "quantitative", "axis": null},
            "text": {"field": "last"},
            "color": {"condition": {"test": "datum.candidate === 'Joe Biden'", "value": "#3a1c00"}, "value": "#f0f0f0"}
          }
        }
      ]
    }
  ]
}
